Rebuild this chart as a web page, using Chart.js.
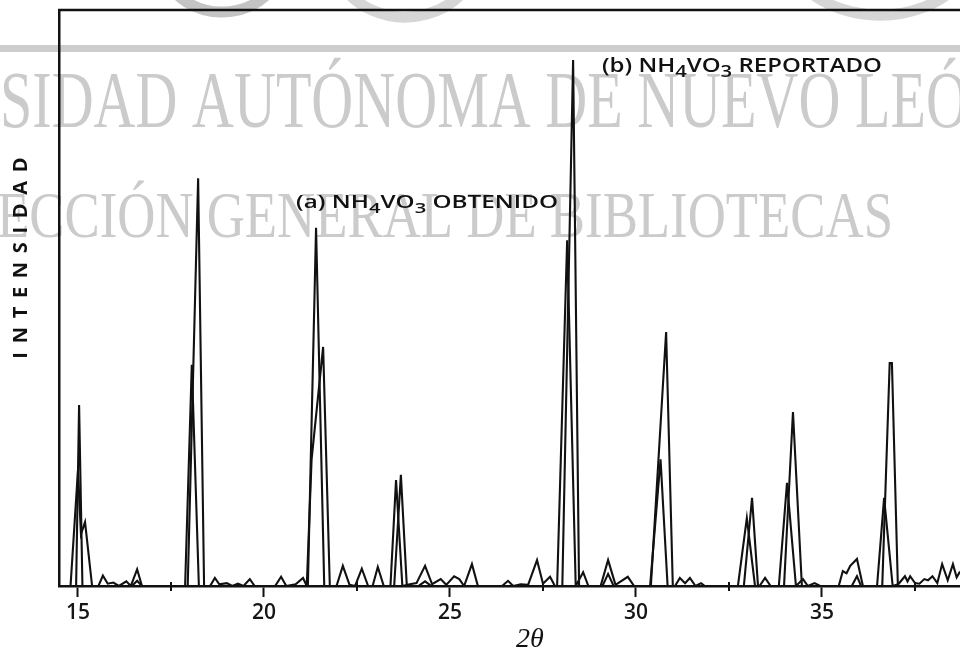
<!DOCTYPE html>
<html>
<head>
<meta charset="utf-8">
<script src="https://cdn.jsdelivr.net/npm/chart.js@4.4.1/dist/chart.umd.min.js"></script>
<style>
html,body{margin:0;padding:0;background:#fff;}
#wrap{width:960px;height:651px;position:relative;}
</style>
</head>
<body>
<div id="wrap"><canvas id="c" width="960" height="651"></canvas></div>
<script>
// ---- Data (2θ in degrees, intensity in % of axis height) ----
const obtTheta = [14.49,14.80,15.00,15.08,15.19,15.38,15.55,15.67,15.80,15.95,16.10,16.30,16.42,16.59,16.72,
  17.88,18.06,18.25,18.55,18.68,18.80,19.00,19.15,19.30,19.45,19.62,19.75,20.30,20.46,20.60,20.85,21.05,21.15,
  21.28,21.59,21.77,21.95,22.12,22.30,22.45,22.63,22.80,22.92,23.06,23.22,23.40,23.55,23.72,23.92,24.10,24.33,
  24.52,24.75,24.90,25.11,25.25,25.38,25.59,25.75,26.40,26.56,26.70,26.90,27.10,27.34,27.50,27.69,27.82,27.88,
  28.15,28.38,28.58,28.72,29.05,29.25,29.45,29.78,29.95,30.38,30.66,30.85,31.05,31.18,31.32,31.45,31.60,31.75,
  31.85,32.74,32.98,33.20,33.32,33.47,33.62,33.84,34.06,34.30,34.49,34.62,34.80,34.95,35.45,35.56,35.66,35.76,
  35.94,36.10,36.48,36.67,36.90,37.05,37.23,37.30,37.37,37.50,37.62,37.75,37.85,37.97,38.10,38.23,38.38,38.52,
  38.62,38.71];
const obtInt = [0,0,20.1,9,11.1,0,0,1.8,0.4,0.6,0,0.8,0,2.9,0,
  0,38.4,0,0,1.4,0.3,0.5,0,0.4,0,1.2,0,0,1.6,0,0.3,1.4,0,
  22,41.5,0,0,3.5,0.2,0,3.0,0,0,3.3,0,0,18.4,0,0.3,0.5,3.5,
  0.3,1.2,0.2,1.7,1.2,0,3.8,0,0,0.9,0,0.3,0.2,4.5,0.4,1.6,0,0,
  60.0,0,2.4,0,0,4.5,0.2,1.6,0,0,22,0,0,1.4,0.5,1.4,0,0.5,
  0,0,11.8,0,0,1.4,0,0,17.9,0,1.2,0,0.5,0,0,2.6,2.2,3.5,
  4.7,0,0,15.3,0,0.3,1.7,0.8,1.7,0.5,0.4,1.2,1.0,1.7,0.5,3.8,1.0,3.8,
  1.5,2.5];

const repTheta = [14.49,14.95,15.03,15.12,16.45,16.59,16.72,17.95,18.23,18.39,21.18,21.40,21.62,23.50,23.68,23.84,
  24.15,24.33,24.50,28.02,28.31,28.47,29.10,29.25,29.40,30.40,30.81,30.99,32.90,33.12,33.28,33.98,34.22,34.46,
  35.80,35.94,36.05,36.62,36.82,36.88,37.04,38.71];
const repInt = [0,0,31.4,0,0,0.9,0,0,70.8,0,0,62.2,0,0,19.3,0,
  0,0.8,0,0,91.3,0,0,2.1,0,0,44.1,0,0,15.3,0,0,30.2,0,
  0,1.7,0,0,38.7,38.7,0,0];

const majorTicks = [15,20,25,30,35];
const minorTicks = [17.5,22.5,27.5,32.5,37.5];
const xTitle = '2θ';
const yTitle = 'INTENSIDAD';
const labelA = [['(a) NH',0],['4',1],['VO',0],['3',1],[' OBTENIDO',0]];
const labelB = [['(b) NH',0],['4',1],['VO',0],['3',1],[' REPORTADO',0]];

const toXY = (xs, ys) => xs.map((x,i)=>({x:x, y:ys[i]}));

function drawRich(ctx, segs, x, baseline, targetW, size){
  const main = `600 ${size}px "Open Sans"`;
  const sub = `600 ${Math.round(size*0.82)}px "Open Sans"`;
  let total = 0;
  const ws = segs.map(s=>{ctx.font = s[1]?sub:main; const w = ctx.measureText(s[0]).width; total += w; return w;});
  const sx = targetW/total;
  ctx.save();
  ctx.translate(x, baseline);
  ctx.scale(sx,1);
  ctx.textBaseline = 'alphabetic';
  ctx.textAlign = 'left';
  let cx = 0;
  segs.forEach((s,i)=>{ctx.font = s[1]?sub:main; ctx.fillText(s[0], cx, s[1]?5:0); cx += ws[i];});
  ctx.restore();
}

function fitText(ctx, text, ref, x, baseline, targetW){
  const w = ctx.measureText(ref).width;
  ctx.save();
  ctx.translate(x, baseline);
  ctx.scale(targetW/w, 1);
  ctx.fillText(text, 0, 0);
  ctx.restore();
}

const decor = {
  id:'decor',
  beforeDraw(chart){
    const c = chart.ctx;
    c.save();
    c.fillStyle = '#fff';
    c.fillRect(0,0,chart.width,chart.height);
    // faint scan watermark
    c.strokeStyle = '#d6d6d6';
    c.lineWidth = 11;
    c.beginPath(); c.ellipse(405,-45,72,62,0,0.15*Math.PI,0.85*Math.PI); c.stroke();
    c.beginPath(); c.ellipse(880,-55,95,70,0,0.1*Math.PI,0.9*Math.PI); c.stroke();
    c.strokeStyle = '#c4c4c4';
    c.beginPath(); c.ellipse(222,-40,60,52,0,0.2*Math.PI,0.8*Math.PI); c.stroke();
    c.fillStyle = '#cdcdcd';
    c.fillRect(0,45,chart.width,7);
    c.fillStyle = '#cbcbcb';
    c.textBaseline = 'alphabetic';
    c.textAlign = 'left';
    c.font = '80px "Liberation Serif"';
    fitText(c, 'SIDAD AUTÓNOMA DE NUEVO LEÓN', 'SIDAD AUTÓNOMA DE NUEVO ', 0, 127, 855);
    c.font = '66px "Liberation Serif"';
    fitText(c, 'ECCIÓN GENERAL DE BIBLIOTECAS', 'ECCIÓN GENERAL DE BIBLIOTECAS', -3, 237, 896);
    c.restore();
  },
  afterDraw(chart){
    const c = chart.ctx;
    const xs = chart.scales.x;
    const area = chart.chartArea;
    c.save();
    c.fillStyle = '#111';
    c.strokeStyle = '#111';
    // top frame line
    c.lineWidth = 2.5;
    c.beginPath(); c.moveTo(area.left-1, area.top); c.lineTo(area.right, area.top); c.stroke();
    // minor ticks
    c.lineWidth = 2;
    minorTicks.forEach(v=>{const px = xs.getPixelForValue(v); c.beginPath(); c.moveTo(px, area.bottom-4); c.lineTo(px, area.bottom+5); c.stroke();});
    // annotations
    drawRich(c, labelA, 296, 208, 262, 18);
    drawRich(c, labelB, 602, 72, 280, 19);
    // y title
    c.save();
    c.translate(21, 258);
    c.rotate(-Math.PI/2);
    c.font = '700 20px "Open Sans"';
    c.textAlign = 'center';
    c.textBaseline = 'middle';
    const w0 = c.measureText(yTitle).width;
    const sp = Math.max(0,(210-w0)/10);
    if ('letterSpacing' in c) { c.letterSpacing = sp + 'px'; c.fillText(yTitle, sp/2, 0); }
    else c.fillText(yTitle, 0, 0);
    c.restore();
    // x title
    c.font = 'italic 28px "Liberation Serif"';
    c.textAlign = 'center';
    c.textBaseline = 'alphabetic';
    c.fillText(xTitle, 530, 647);
    c.restore();
  }
};

new Chart(document.getElementById('c'), {
  type:'line',
  data:{
    datasets:[
      {label:'(a) NH4VO3 OBTENIDO', data: toXY(obtTheta, obtInt), borderColor:'#111', borderWidth:2.1, pointRadius:0, tension:0, fill:false},
      {label:'(b) NH4VO3 REPORTADO', data: toXY(repTheta, repInt), borderColor:'#111', borderWidth:2.1, pointRadius:0, tension:0, fill:false}
    ]
  },
  options:{
    responsive:false,
    animation:false,
    events:[],
    layout:{padding:{top:10,left:0,right:0,bottom:0}},
    plugins:{legend:{display:false}, tooltip:{enabled:false}, title:{display:false}},
    scales:{
      x:{
        type:'linear', min:14.49, max:38.71,
        afterFit(s){ s.height = 65; },
        border:{display:true, color:'#111', width:2.5},
        grid:{display:true, drawOnChartArea:false, drawTicks:true, tickLength:11,
              tickColor:(ctx)=> (ctx.tick && majorTicks.includes(ctx.tick.value)) ? '#111' : 'rgba(0,0,0,0)', tickWidth:2},
        ticks:{stepSize:2.5, includeBounds:false, autoSkip:false, maxRotation:0, padding:3, color:'#151515',
               font:{family:'"Open Sans"', size:21, weight:'600'},
               callback:(v)=> majorTicks.includes(v) ? String(v) : ''},
        title:{display:false}
      },
      y:{
        type:'linear', min:0, max:100,
        afterFit(s){ s.width = 59; },
        border:{display:true, color:'#111', width:2.5},
        grid:{display:false},
        ticks:{display:false},
        title:{display:false}
      }
    }
  },
  plugins:[decor]
});
</script>
</body>
</html>
